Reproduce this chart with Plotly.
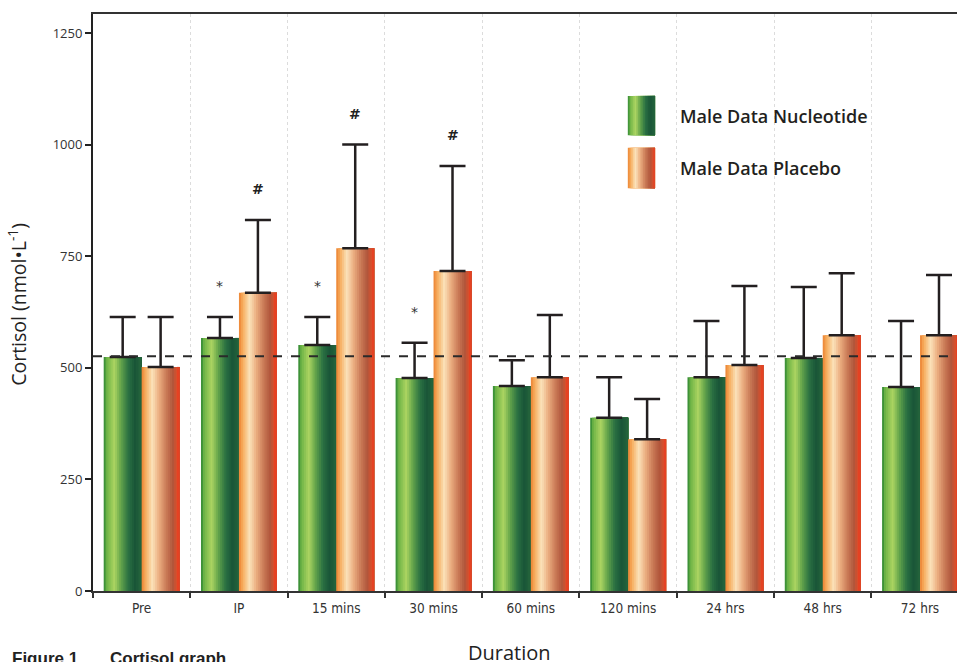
import plotly.graph_objects as go

# ---------------- data ----------------
categories = ["Pre", "IP", "15 mins", "30 mins", "60 mins", "120 mins", "24 hrs", "48 hrs", "72 hrs"]
nucleotide = [524, 567, 551, 477, 459, 388, 479, 522, 457]
nucleotide_sd = [90, 47, 63, 79, 58, 91, 126, 159, 148]
placebo = [502, 668, 768, 717, 479, 340, 506, 573, 573]
placebo_sd = [112, 163, 232, 235, 139, 90, 177, 139, 135]
sig_nucleotide = ["", "*", "*", "*", "", "", "", "", ""]
sig_placebo = ["", "#", "#", "#", "", "", "", "", ""]
baseline = 526
y_ticks = [0, 250, 500, 750, 1000, 1250]

series_names = ["Male Data Nucleotide", "Male Data Placebo"]

# ---------------- styling ----------------
green_stops = [(0.00, (40, 130, 50)), (0.08, (110, 180, 70)), (0.28, (172, 212, 98)),
               (0.45, (100, 165, 75)), (0.65, (42, 112, 66)), (0.82, (26, 86, 56)),
               (1.00, (36, 100, 60))]
orange_stops = [(0.00, (236, 130, 50)), (0.10, (246, 172, 92)), (0.28, (251, 226, 186)),
                (0.45, (236, 176, 130)), (0.65, (202, 122, 86)), (0.82, (176, 86, 60)),
                (0.92, (214, 80, 45)), (1.00, (236, 60, 30))]


def interp(stops, t):
    for (p0, c0), (p1, c1) in zip(stops[:-1], stops[1:]):
        if p0 <= t <= p1:
            f = (t - p0) / (p1 - p0) if p1 > p0 else 0
            c = [round(a + (b - a) * f) for a, b in zip(c0, c1)]
            return "rgb(%d,%d,%d)" % tuple(c)
    return "rgb(%d,%d,%d)" % stops[-1][1]


N = 20
BW = 0.39  # bar width in category units

fig = go.Figure()

for vals, stops, start in [(nucleotide, green_stops, -BW), (placebo, orange_stops, 0.0)]:
    for i in range(N):
        t = (i + 0.5) / N
        fig.add_trace(go.Bar(
            x=categories, y=vals, width=BW * (N - i) / N, offset=start + i * BW / N,
            marker=dict(color=interp(stops, t), line=dict(width=0)),
            showlegend=False, hoverinfo="skip"))

# error bars (one sided, upward)
for vals, sd, start, name in [(nucleotide, nucleotide_sd, -BW, series_names[0]),
                              (placebo, placebo_sd, 0.0, series_names[1])]:
    fig.add_trace(go.Bar(
        x=categories, y=vals, width=BW, offset=start, name=name,
        marker=dict(color="rgba(0,0,0,0)", line=dict(width=0)),
        error_y=dict(type="data", array=sd, arrayminus=[0] * len(sd), symmetric=False,
                     color="#231f20", thickness=2.5, width=13),
        showlegend=False))

# significance markers
ann = []
for k, cat in enumerate(categories):
    if sig_nucleotide[k]:
        ann.append(dict(x=k - BW / 2, y=nucleotide[k] + nucleotide_sd[k], xref="x", yref="y",
                        text=sig_nucleotide[k], showarrow=False, yshift=31,
                        font=dict(size=14, color="#333", family="DejaVu Sans")))
    if sig_placebo[k]:
        ann.append(dict(x=k + BW / 2, y=placebo[k] + placebo_sd[k], xref="x", yref="y",
                        text=sig_placebo[k], showarrow=False, yshift=31,
                        font=dict(size=14, color="#222", family="DejaVu Sans", weight=600)))

# axis titles & caption
ann.append(dict(x=-0.0868, y=0.496, xref="paper", yref="paper", text="Cortisol (nmol•L<sup>-1</sup>)",
                textangle=-90, showarrow=False, xanchor="center", yanchor="middle",
                font=dict(size=19.5, color="#222", family="Open Sans", weight=500)))
ann.append(dict(x=0.4826, y=-0.106, xref="paper", yref="paper", text="Duration",
                showarrow=False, xanchor="center", yanchor="middle",
                font=dict(size=20, color="#222", family="Open Sans", weight=500)))
ann.append(dict(x=-0.096, y=-0.0965, xref="paper", yref="paper",
                text="<b>Figure 1</b>",
                showarrow=False, xanchor="left", yanchor="top",
                font=dict(size=17, color="#222", family="Liberation Sans, Arial")))
ann.append(dict(x=0.017, y=-0.0965, xref="paper", yref="paper",
                text="<b>Cortisol graph</b>",
                showarrow=False, xanchor="left", yanchor="top",
                font=dict(size=17, color="#222", family="Liberation Sans, Arial")))

# legend (custom gradient swatches)
shapes = []
leg_x0, leg_x1 = 0.619, 0.6505
for (y0, y1), stops, name in [((0.790, 0.858), green_stops, series_names[0]),
                              ((0.698, 0.768), orange_stops, series_names[1])]:
    M = 16
    for i in range(M):
        t = (i + 0.5) / M
        xa = leg_x0 + (leg_x1 - leg_x0) * i / M
        shapes.append(dict(type="rect", xref="paper", yref="paper", x0=xa, x1=leg_x1, y0=y0, y1=y1,
                           fillcolor=interp(stops, t), line=dict(width=0), layer="above"))
    ann.append(dict(x=0.677, y=(y0 + y1) / 2, xref="paper", yref="paper", text=name,
                    showarrow=False, xanchor="left", yanchor="middle",
                    font=dict(size=18, color="#231f20", family="Open Sans", weight=600)))

# dashed baseline
shapes.append(dict(type="line", xref="paper", yref="y", x0=0, x1=1, y0=baseline, y1=baseline,
                   line=dict(color="#2a2a2a", width=2, dash="dash"), layer="above"))

fig.update_layout(
    width=957, height=662,
    margin=dict(l=93, r=0, t=14, b=71),
    paper_bgcolor="white", plot_bgcolor="white",
    barmode="overlay",
    showlegend=False,
    annotations=ann,
    shapes=shapes,
    xaxis=dict(type="category", range=[-0.5, 8.38], tickson="boundaries",
               ticks="outside", ticklen=5, tickwidth=1.5, tickcolor="#333",
               showline=True, linecolor="#333", linewidth=2, mirror=True,
               showgrid=True, gridcolor="#dcdcdc", griddash="dot", gridwidth=1,
               ticklabelstandoff=4,
               tickfont=dict(size=13.5, color="#333",
                             family="DejaVu Sans Condensed, Liberation Sans Narrow, Open Sans"),
               fixedrange=True),
    yaxis=dict(range=[0, 1292.5], tickvals=y_ticks, ticks="outside", ticklen=6, tickwidth=1.5,
               tickcolor="#222", showline=True, linecolor="#222", linewidth=2,
               showgrid=False, zeroline=False,
               tickfont=dict(size=13, color="#333", family="Open Sans")),
)

fig.write_html("out.html", config={"displayModeBar": False},
               post_script="document.body.style.margin='0';document.body.style.overflow='hidden';")
